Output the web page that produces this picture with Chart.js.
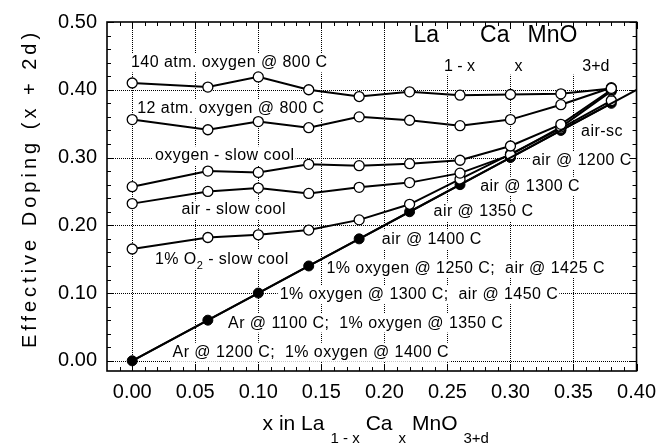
<!DOCTYPE html>
<html>
<head>
<meta charset="utf-8">
<script src="https://cdn.jsdelivr.net/npm/chart.js@4/dist/chart.umd.min.js"></script>
<style>
  html, body { margin: 0; padding: 0; background: #fff; }
  canvas { display: block; }
</style>
</head>
<body>
<canvas id="chart" width="665" height="445"></canvas>
<script>
// ---- Data ----
const xVals   = [0.00, 0.06, 0.10, 0.14, 0.18, 0.22, 0.26, 0.30, 0.34, 0.38];
const atm140  = [0.410, 0.404, 0.419, 0.400, 0.390, 0.397, 0.392, 0.393, 0.394, 0.402];
const atm12   = [0.356, 0.341, 0.353, 0.344, 0.360, 0.355, 0.347, 0.356, 0.378, 0.403];
const oxySlow = [0.257, 0.280, 0.278, 0.290, 0.288, 0.291, 0.296, 0.317, 0.349, 0.400];
const airSlow = [0.232, 0.250, 0.255, 0.247, 0.256, 0.263, 0.277, 0.304, 0.345, 0.398];
const o2Slow  = [0.165, 0.182, 0.186, 0.193, 0.208, 0.231, 0.268, 0.305, 0.343, 0.384];
const airQuench = [0.00, 0.06, 0.10, 0.14, 0.18, 0.22, 0.26, 0.30, 0.34, 0.38];
const refX = [0.00, 0.40];
const refY = [0.00, 0.40];

// annotation text, anchored at (left, baseline) in data units
const notes = [
  { parts: [['140 atm. oxygen @ 800 C']], x: -0.001, y: 0.433 },
  { parts: [['12 atm. oxygen @ 800 C']], x: 0.004, y: 0.365 },
  { parts: [['oxygen - slow cool']], x: 0.018, y: 0.296 },
  { parts: [['air - slow cool']], x: 0.039, y: 0.216 },
  { parts: [['1% O'], ['2', 1], [' - slow cool']], x: 0.018, y: 0.143 },
  { parts: [['air @ 1200 C']], x: 0.317, y: 0.289 },
  { parts: [['air @ 1300 C']], x: 0.276, y: 0.251 },
  { parts: [['air @ 1350 C']], x: 0.239, y: 0.213 },
  { parts: [['air @ 1400 C']], x: 0.198, y: 0.172 },
  { parts: [['1% oxygen @ 1250 C;  air @ 1425 C']], x: 0.154, y: 0.130 },
  { parts: [['1% oxygen @ 1300 C;  air @ 1450 C']], x: 0.117, y: 0.091 },
  { parts: [['Ar @ 1100 C;  1% oxygen @ 1350 C']], x: 0.076, y: 0.049 },
  { parts: [['Ar @ 1200 C;  1% oxygen @ 1400 C']], x: 0.032, y: 0.006 },
  { parts: [['air-sc']], x: 0.356, y: 0.332 },
];
const formulaParts = [['La'], ['1 - x', 1], ['Ca'], ['x', 1], ['MnO'], ['3+d', 1]];
const formulaPos = { x: 0.223, y: 0.471 };
const xTitleParts = [['x in La'], ['1 - x', 1], ['Ca'], ['x', 1], ['MnO'], ['3+d', 1]];
const yTitle = 'Effective Doping (x + 2d)';

const FONT = '"Liberation Sans", Arial, Helvetica, sans-serif';

function pts(ys, xs = xVals) { return xs.map((x, i) => ({ x, y: ys[i] })); }

function openSeries(label, ys) {
  return { label, data: pts(ys), showLine: true, borderColor: '#000', borderWidth: 2,
    pointRadius: 5, pointBackgroundColor: '#fff', pointBorderColor: '#000', pointBorderWidth: 1.3 };
}

// ---- Rich text helper (subscripts) ----
function richWidth(ctx, parts, size, subSize, gap) {
  let w = 0;
  parts.forEach(([t, sub], i) => {
    ctx.font = `${sub ? subSize : size}px ${FONT}`;
    w += ctx.measureText(t).width + (i ? gap : 0);
  });
  return w;
}
function drawRich(ctx, parts, x, y, size, subSize, subDrop, gap) {
  parts.forEach(([t, sub], i) => {
    if (i) x += gap;
    ctx.font = `${sub ? subSize : size}px ${FONT}`;
    ctx.fillText(t, x, sub ? y + subDrop : y);
    x += ctx.measureText(t).width;
  });
}

// dotted grid at the major ticks of both scales
function drawGrid(chart) {
  const { ctx, chartArea: a, scales: { x, y } } = chart;
  ctx.save();
  ctx.fillStyle = '#000';
  const xs = x.ticks.map((t) => Math.round(x.getPixelForValue(t.value)))
    .filter((px) => px > a.left + 1 && px < a.right - 1);
  const ys = y.ticks.map((t) => Math.round(y.getPixelForValue(t.value)))
    .filter((py) => py > a.top + 1 && py < a.bottom - 1);
  xs.forEach((px) => {
    for (let py = Math.ceil(a.top); py < a.bottom; py += 2) ctx.fillRect(px, py, 1, 1);
  });
  ys.forEach((py) => {
    for (let px = Math.ceil(a.left); px < a.right; px += 2) ctx.fillRect(px, py, 1, 1);
  });
  ctx.restore();
}

// ---- Custom drawing: labels, frame, inward ticks, titles ----
const decor = {
  id: 'decor',
  beforeDatasetsDraw(chart) {
    drawGrid(chart);
    const { ctx, scales: { x, y } } = chart;
    ctx.save();
    ctx.textBaseline = 'alphabetic';
    ctx.textAlign = 'left';
    ctx.letterSpacing = '0.45px';
    notes.forEach((n) => {
      const px = x.getPixelForValue(n.x), py = y.getPixelForValue(n.y);
      const w = richWidth(ctx, n.parts, 16, 11, 0);
      ctx.fillStyle = '#fff';
      ctx.fillRect(px - 2, py - 14, w + 3, 19);
      ctx.fillStyle = '#000';
      drawRich(ctx, n.parts, px, py, 16, 11, 5, 0);
    });
    ctx.letterSpacing = '0px';
    // formula block
    const fx = x.getPixelForValue(formulaPos.x), fy = y.getPixelForValue(formulaPos.y);
    const fw = richWidth(ctx, formulaParts, 23, 16, 5);
    ctx.fillStyle = '#fff';
    ctx.fillRect(fx - 3, fy - 20, fw + 6, 53);
    ctx.fillStyle = '#000';
    drawRich(ctx, formulaParts, fx, fy, 23, 16, 29, 5);
    ctx.restore();
  },
  afterDraw(chart) {
    const { ctx, chartArea: a, scales: { x, y } } = chart;
    ctx.save();
    ctx.strokeStyle = '#000';
    ctx.lineWidth = 1;
    ctx.beginPath();
    for (let i = -1; i <= 40; i++) {
      const px = Math.round(x.getPixelForValue(i / 100)) + 0.5;
      const len = i % 5 === 0 ? 7 : 4;
      ctx.moveTo(px, a.bottom); ctx.lineTo(px, a.bottom - len);
      ctx.moveTo(px, a.top); ctx.lineTo(px, a.top + len);
    }
    for (let i = 0; i <= 25; i++) {
      const py = Math.round(y.getPixelForValue(i * 0.02)) + 0.5;
      const len = i % 5 === 0 ? 7 : 4;
      ctx.moveTo(a.left, py); ctx.lineTo(a.left + len, py);
      ctx.moveTo(a.right, py); ctx.lineTo(a.right - len, py);
    }
    ctx.stroke();
    ctx.lineWidth = 1.6;
    ctx.strokeRect(a.left, a.top, a.right - a.left, a.bottom - a.top);

    // x title
    ctx.fillStyle = '#000';
    ctx.textBaseline = 'alphabetic';
    ctx.textAlign = 'left';
    const tw = richWidth(ctx, xTitleParts, 21, 15, 6);
    drawRich(ctx, xTitleParts, (a.left + a.right) / 2 - tw / 2 + 4, a.bottom + 59, 21, 15, 13, 6);

    // y title (stretched lettering)
    ctx.translate(30, (a.top + a.bottom) / 2 - 8);
    ctx.rotate(-Math.PI / 2);
    ctx.font = `20px ${FONT}`;
    ctx.letterSpacing = '4px';
    ctx.textAlign = 'center';
    ctx.textBaseline = 'middle';
    ctx.fillText(yTitle, 0, 0);
    ctx.restore();
  },
};

const tickFont = { family: FONT, size: 20 };

new Chart(document.getElementById('chart'), {
  type: 'scatter',
  data: {
    datasets: [
      { label: 'ref', data: pts(refY, refX), showLine: true, borderColor: '#000', borderWidth: 2, pointRadius: 0 },
      openSeries('140 atm', atm140),
      openSeries('12 atm', atm12),
      openSeries('oxygen-sc', oxySlow),
      openSeries('air-sc', airSlow),
      openSeries('1% O2-sc', o2Slow),
      { label: 'quenched', data: pts(airQuench), showLine: true, borderColor: '#000', borderWidth: 2,
        pointRadius: 5, pointBackgroundColor: '#000', pointBorderColor: '#000', pointBorderWidth: 1 },
    ],
  },
  options: {
    responsive: false,
    animation: false,
    devicePixelRatio: 1,
    layout: { padding: { top: 17, right: 27, left: 0, bottom: 0 } },
    plugins: { legend: { display: false }, tooltip: { enabled: false } },
    scales: {
      x: {
        type: 'linear', min: -0.02, max: 0.40,
        ticks: { stepSize: 0.05, includeBounds: false, color: '#000', font: tickFont, padding: 9,
          maxRotation: 0, callback: (v) => v.toFixed(2) },
        grid: { display: false, drawTicks: false },
        border: { display: false },
        afterFit: (s) => { s.height = 74; },
      },
      y: {
        type: 'linear', min: -0.015, max: 0.50,
        ticks: { stepSize: 0.1, includeBounds: false, color: '#000', font: tickFont, padding: 10,
          callback: (v) => v.toFixed(2) },
        grid: { display: false, drawTicks: false },
        border: { display: false },
        afterFit: (s) => { s.width = 107; },
      },
    },
  },
  plugins: [decor],
});
</script>
</body>
</html>
